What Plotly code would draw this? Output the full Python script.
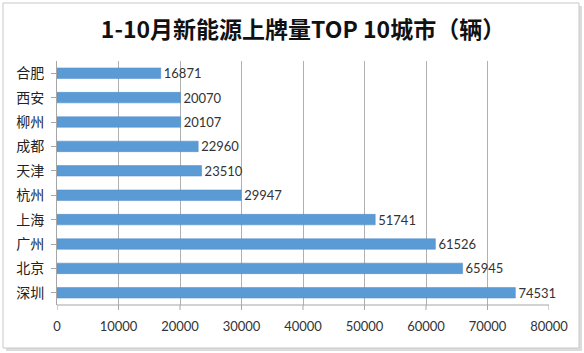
import plotly.graph_objects as go

cities = ["合肥", "西安", "柳州", "成都", "天津", "杭州", "上海", "广州", "北京", "深圳"]
values = [16871, 20070, 20107, 22960, 23510, 29947, 51741, 61526, 65945, 74531]
x_ticks = [0, 10000, 20000, 30000, 40000, 50000, 60000, 70000, 80000]
title_text = "1-10月新能源上牌量TOP 10城市（辆）"

W, H = 584, 353
L, R, T, B = 57, 35, 61, 48
pw, ph = W - L - R, H - T - B

def px_x(x):
    return (x - L) / pw

def px_y(y):
    return (H - B - y) / ph

fig = go.Figure()
fig.add_trace(go.Bar(
    y=cities, x=values, orientation="h",
    marker=dict(color="#5B9BD5", line=dict(color="#4A8AC8", width=0.5)),
    width=0.43,
    text=[str(v) for v in values], textposition="outside",
    constraintext="none",
    textfont=dict(family="Lato, Noto Sans", size=13, color="#333333"),
    cliponaxis=False,
))

shapes = [
    # shadow
    dict(type="rect", xref="paper", yref="paper",
         x0=px_x(6), x1=px_x(582), y0=px_y(351), y1=px_y(6),
         line=dict(width=0), fillcolor="#dcdcdc", layer="below"),
    # border
    dict(type="rect", xref="paper", yref="paper",
         x0=px_x(3), x1=px_x(579), y0=px_y(348), y1=px_y(3),
         line=dict(color="#c8c8c8", width=1), fillcolor="white", layer="below"),
]

fig.update_layout(
    width=W, height=H,
    margin=dict(l=L, r=R, t=T, b=B),
    paper_bgcolor="white", plot_bgcolor="rgba(0,0,0,0)",
    showlegend=False,
    shapes=shapes,
    title=dict(text="<b>" + title_text + "</b>", x=0.5, xref="paper", xanchor="center",
               y=1 - 30 / H, yanchor="middle",
               font=dict(family="Noto Sans CJK SC", size=23, color="#111111")),
    xaxis=dict(range=[0, 80000], tickvals=x_ticks, ticktext=[str(t) for t in x_ticks],
               showgrid=True, gridcolor="#b0b0b0", gridwidth=1,
               zeroline=False, showline=False,
               ticks="", tickfont=dict(family="Lato, Noto Sans", size=13, color="#333333"),
               ticklabelstandoff=12, fixedrange=True),
    yaxis=dict(categoryorder="array", categoryarray=cities[::-1],
               showline=True, linecolor="#a6a6a6", linewidth=1,
               ticks="outside", ticklen=5, tickcolor="#a6a6a6",
               tickfont=dict(family="Noto Sans CJK SC", size=14, color="#222222"),
               ticklabelstandoff=4, showgrid=False, fixedrange=True),
    bargap=0.57,
)
# x axis line with downward tick marks
fig.add_shape(type="line", xref="paper", yref="paper", x0=0, x1=1, y0=0, y1=0,
              line=dict(color="#a6a6a6", width=1))
for t in x_ticks:
    fig.add_shape(type="line", xref="x", yref="paper", x0=t, x1=t, y0=0, y1=-5 / ph,
                  line=dict(color="#a6a6a6", width=1))

fig.write_html("out.html")
